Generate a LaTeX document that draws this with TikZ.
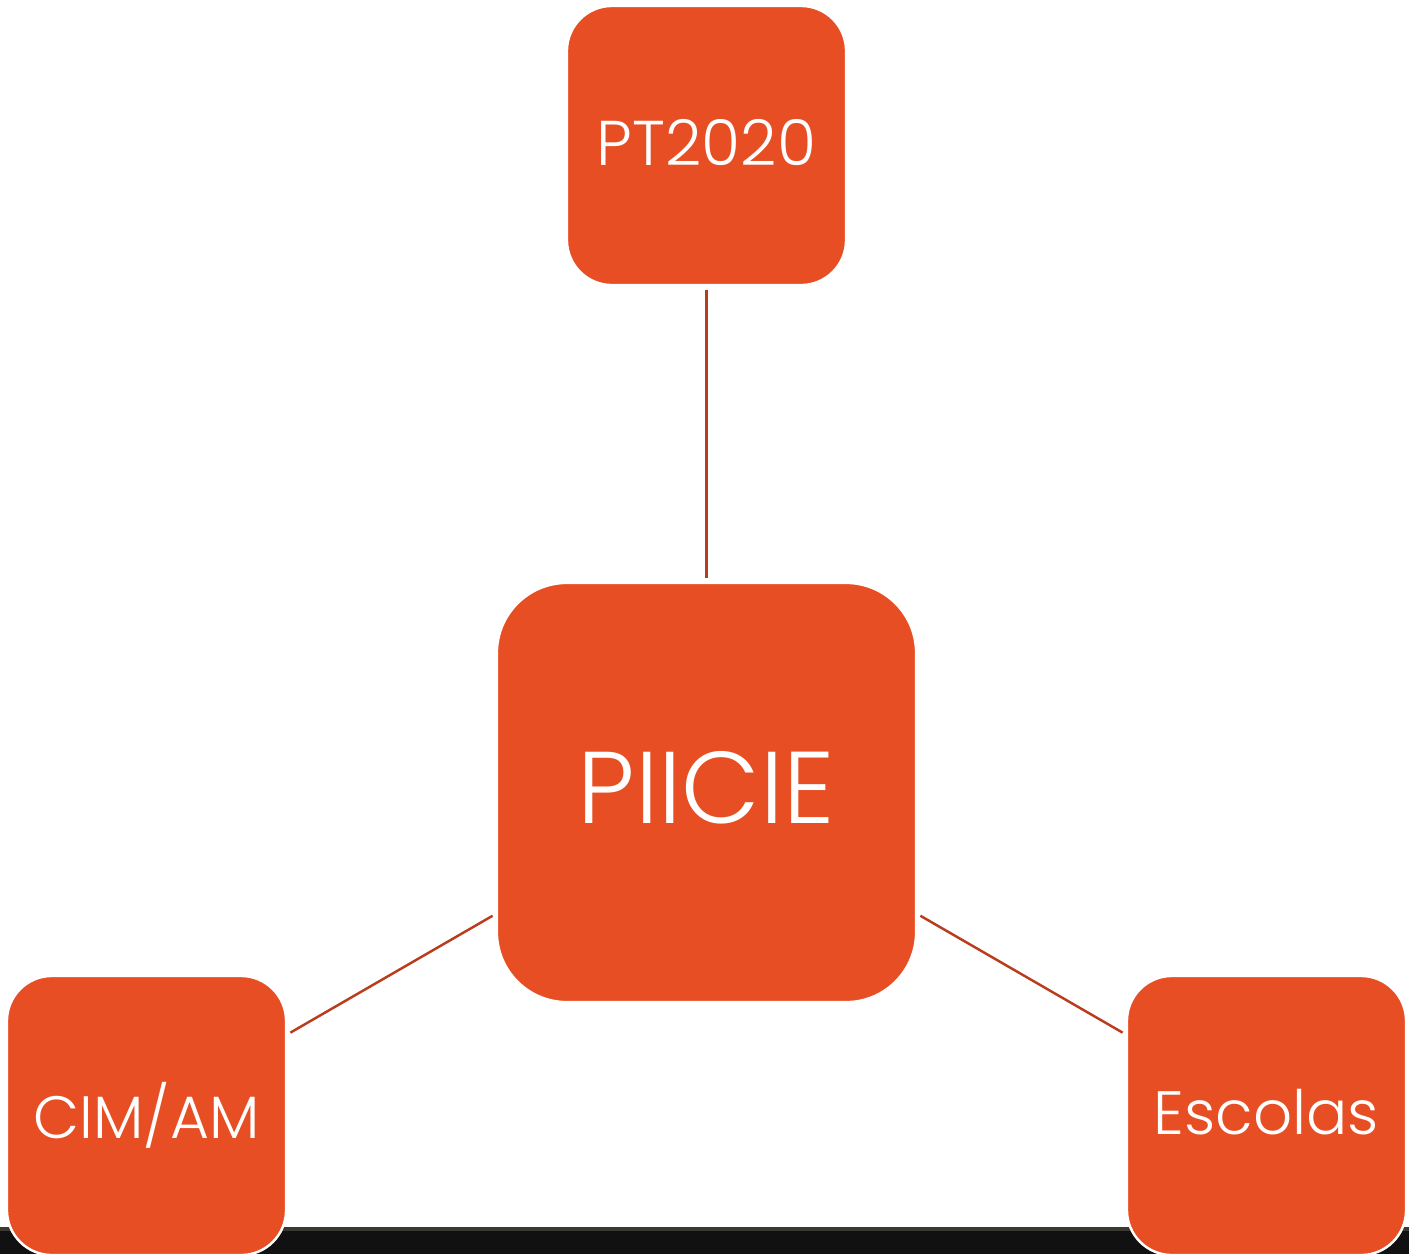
\documentclass[tikz,border=0pt]{standalone}
\usepackage{fontspec}
\setmainfont{Poppins}[UprightFont={* Light}]
\definecolor{boxorange}{HTML}{E84E23}
\definecolor{linkred}{HTML}{B93D1D}
\definecolor{barblack}{HTML}{111111}
\definecolor{bargrey}{HTML}{3A3A33}
\begin{document}
\begin{tikzpicture}[x=0.01cm,y=-0.01cm,
  box/.style={rectangle,fill=boxorange,draw=white,line width=0.7pt,text=white,
    minimum size=2.79cm,rounded corners=0.45cm,inner sep=0pt,font=\fontsize{18}{20}\selectfont},
  bigbox/.style={box,minimum size=4.19cm,rounded corners=0.7cm,font=\fontsize{29}{31}\selectfont},
  link/.style={draw=linkred,line width=0.7pt,shorten <=1pt,shorten >=1pt}]
\useasboundingbox(0,0)rectangle(1409,1254);
%bottom bar
\fill[barblack](0,1229)rectangle(1409,1254);
\fill[bargrey](0,1227)rectangle(1409,1231);
%boxes
\node[bigbox](piicie)at(706.5,792.5){\raisebox{3pt}{PIICIE}};
\node[box](pt)at(706.5,145.5){\raisebox{2pt}{PT2020}};
\node[box,font=\fontsize{17}{19}\selectfont](cim)at(146.5,1115.5){\raisebox{2pt}{CIM/AM}};
\node[box,font=\fontsize{17.4}{19}\selectfont](escolas)at(1266.5,1115.5){\raisebox{2pt}{Escolas}};
%links
\draw[link](pt)--(piicie);
\draw[link](piicie)--(cim);
\draw[link](piicie)--(escolas);
\end{tikzpicture}
\end{document}
